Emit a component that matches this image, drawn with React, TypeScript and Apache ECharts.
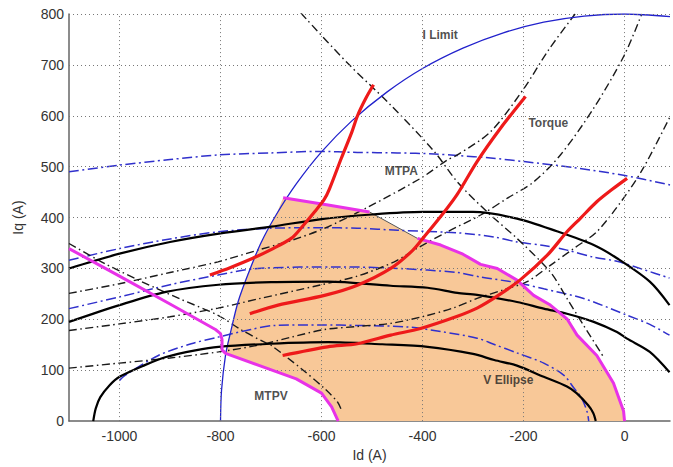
import { useEffect, useRef } from 'react';
import * as echarts from 'echarts';

// axis ticks
const xTickLabels = [-1000, -800, -600, -400, -200, 0];
const yGridValues = [100, 200, 300, 400, 500, 600, 700, 800];

// current limit circle (blue solid)
const iLimit = [
  [-800, 0], [-798, 60], [-790, 130], [-780, 175], [-765, 235], [-745, 290], [-720, 350],
  [-690, 405], [-650, 466], [-600, 529], [-540, 590], [-470, 647], [-400, 693], [-320, 733],
  [-240, 763], [-160, 784], [-80, 796], [0, 800], [90, 795],
];

// voltage ellipses (black solid)
const vEllipse1 = [
  [-1100, 300], [-1000, 329], [-900, 352], [-800, 369], [-700, 382], [-600, 397], [-500, 406],
  [-400, 411], [-300, 411], [-213, 398], [-134, 373], [-61, 346], [-15, 320], [50, 274], [89, 228],
];
const vEllipse2 = [
  [-1100, 195], [-1000, 228], [-908, 254], [-804, 268], [-700, 273], [-587, 274], [-463, 266],
  [-390, 262], [-331, 252], [-292, 248], [-213, 234], [-160, 221], [-114, 211], [-61, 195],
  [-15, 175], [5, 162], [50, 136], [89, 96],
];
const vEllipse3 = [
  [-1052, 0], [-1047, 25], [-1038, 47], [-1020, 70], [-1000, 87], [-950, 110], [-908, 126],
  [-850, 139], [-804, 146], [-700, 152], [-587, 155], [-480, 151], [-390, 146], [-300, 132],
  [-258, 120], [-213, 109], [-160, 87], [-114, 68], [-95, 55], [-72, 31], [-62, 16], [-57, 0],
];

// blue dash-dot curves
const blueDash1 = [
  [-1100, 490], [-1000, 503], [-900, 514], [-805, 523], [-700, 527], [-607, 530], [-529, 528],
  [-450, 527], [-377, 525], [-331, 522], [-265, 517], [-199, 510], [-100, 498], [-2, 483], [90, 464],
];
const blueDash2 = [
  [-1100, 316], [-1000, 339], [-900, 358], [-805, 372], [-700, 379], [-600, 380], [-529, 379],
  [-449, 375], [-331, 370], [-259, 362], [-213, 352], [-160, 345], [-114, 336], [-61, 322],
  [-15, 314], [37, 298], [89, 281],
];
const blueDash3 = [
  [-1100, 221], [-1000, 244], [-900, 268], [-805, 287], [-726, 300], [-561, 303], [-449, 300],
  [-331, 292], [-285, 283], [-213, 272], [-160, 260], [-81, 241], [5, 208], [50, 190], [89, 169],
];
const blueDash4 = [
  [-1000, 80], [-989, 90], [-923, 129], [-858, 152], [-805, 165], [-740, 180], [-693, 188],
  [-600, 189], [-529, 188], [-430, 185], [-364, 176], [-292, 163], [-259, 151], [-213, 134],
  [-160, 114], [-120, 90], [-101, 66], [-85, 45], [-74, 18], [-71, 0],
];

// black dash-dot curves (torque curves and theoretical MTPA / MTPV)
const torqueA = [
  [-1100, 251], [-1000, 270], [-900, 292], [-805, 313], [-726, 336], [-660, 355], [-594, 379],
  [-509, 420], [-404, 477], [-351, 513], [-331, 523], [-265, 569], [-199, 654], [-150, 730], [-98, 800],
];
const torqueB = [
  [-1100, 178], [-1000, 191], [-900, 205], [-805, 222], [-726, 240], [-600, 268], [-529, 285],
  [-456, 313], [-410, 340], [-351, 372], [-285, 405], [-232, 438], [-180, 470], [-127, 523],
  [-61, 615], [0, 720], [34, 800],
];
const torqueC = [
  [-1100, 104], [-1000, 114], [-900, 124], [-804, 136], [-726, 149], [-660, 165], [-594, 180],
  [-529, 186], [-463, 192], [-397, 206], [-340, 222], [-292, 241], [-240, 258], [-193, 274],
  [-147, 306], [-101, 339], [-55, 372], [-2, 438], [37, 497], [90, 598],
];
const descendingA = [
  [-641, 802], [-548, 703], [-463, 621], [-377, 530], [-331, 470], [-272, 411], [-213, 359],
  [-147, 293], [-114, 241], [-81, 188], [-41, 125],
];
const descendingB = [
  [-1100, 349], [-1030, 310], [-956, 274], [-880, 240], [-805, 208], [-760, 180], [-713, 155],
  [-700, 149], [-640, 103], [-594, 64], [-568, 37], [-560, 20],
];

// red operating trajectories
const red1 = [
  [-821, 287], [-780, 302], [-736, 320], [-700, 337], [-660, 359], [-640, 380], [-614, 411],
  [-595, 435], [-584, 457], [-561, 516], [-540, 568], [-528, 602], [-512, 635], [-497, 661],
];
const red2 = [
  [-742, 211], [-686, 228], [-594, 247], [-529, 267], [-463, 300], [-420, 335], [-397, 362],
  [-357, 411], [-331, 446], [-292, 510], [-246, 575], [-196, 638],
];
const red3 = [
  [-677, 129], [-588, 146], [-529, 152], [-463, 169], [-404, 182], [-331, 206], [-292, 222],
  [-250, 247], [-206, 278], [-153, 326], [-114, 372], [-88, 398], [-55, 431], [-25, 455], [5, 477],
];

// magenta boundaries
const mtpvBoundary = [
  [-1100, 339], [-1000, 285], [-900, 230], [-810, 180], [-800, 172], [-797, 160], [-797, 140],
  [-790, 133], [-720, 108], [-650, 83], [-600, 55], [-580, 28], [-567, 0],
];
const topBoundary = [[-676, 439], [-590, 425], [-505, 411]];
const thinBoundary = [[-505, 411], [-410, 359]];
const rightBoundary = [
  [-410, 359], [-364, 346], [-320, 328], [-285, 308], [-252, 300], [-213, 277], [-180, 247],
  [-147, 228], [-114, 201], [-94, 169], [-55, 129], [-22, 75], [-2, 20], [0, 0],
];

// shaded operating region
const fillRegion = [
  [-567, 0], [-580, 28], [-600, 55], [-650, 83], [-720, 108], [-790, 133], [-787, 150],
  [-780, 175], [-765, 235], [-745, 290], [-720, 350], [-690, 405], [-676, 439], [-590, 425],
  [-505, 411], [-410, 359], [-364, 346], [-320, 328], [-285, 308], [-252, 300], [-213, 277],
  [-180, 247], [-147, 228], [-114, 201], [-94, 169], [-55, 129], [-22, 75], [-2, 20], [0, 0],
];

// annotations
const annotationNames = ['I Limit', 'Torque', 'MTPA', 'MTPV', 'V Ellipse'];
const annotationPos = [[-365, 758], [-151, 586], [-442, 491], [-700, 50], [-230, 81]];

const FONT = "'Liberation Sans', Arial, Helvetica, sans-serif";

export default function App() {
  const ref = useRef<HTMLDivElement>(null);

  useEffect(() => {
    if (!ref.current) return;
    const chart = echarts.init(ref.current, undefined, { renderer: 'svg' });

    const line = (
      data: number[][],
      color: string,
      width: number,
      type: any,
      z: number,
      smooth: number | boolean = 0.3,
    ) => ({
      type: 'line',
      data,
      showSymbol: false,
      symbol: 'none',
      smooth,
      silent: true,
      z,
      lineStyle: { color, width, type },
    });

    const blackDash = [8, 3.5, 1.5, 3.5];
    const blueDash = [10, 3.5, 2, 3.5];

    chart.setOption({
      animation: false,
      textStyle: { fontFamily: FONT },
      grid: { left: 69, right: 0, top: 14, bottom: 45, containLabel: false },
      xAxis: {
        type: 'value',
        min: -1100,
        max: 90,
        interval: 100,
        name: 'Id (A)',
        nameLocation: 'middle',
        nameGap: 24,
        nameTextStyle: { fontSize: 14, color: '#333', fontFamily: FONT },
        axisLine: { show: true, onZero: false, lineStyle: { color: '#666', width: 1.5 } },
        axisTick: { show: false },
        splitLine: { show: false },
        axisLabel: {
          fontSize: 14,
          color: '#333',
          margin: 8,
          fontFamily: FONT,
          formatter: (v: number) => (xTickLabels.includes(v) ? String(v) : ''),
        },
      },
      yAxis: {
        type: 'value',
        min: 0,
        max: 800,
        interval: 100,
        name: 'Iq (A)',
        nameLocation: 'middle',
        nameGap: 44,
        nameTextStyle: { fontSize: 14, color: '#333', fontFamily: FONT },
        axisLine: { show: true, onZero: false, lineStyle: { color: '#666', width: 1.5 } },
        axisTick: { show: false },
        splitLine: { show: false },
        axisLabel: { fontSize: 14, color: '#333', margin: 5, fontFamily: FONT },
      },
      series: [
        {
          type: 'custom',
          data: fillRegion,
          silent: true,
          z: 1,
          clip: true,
          renderItem: (params: any, api: any) => {
            if (params.dataIndex !== 0) return null;
            const pts = fillRegion.map((p) => api.coord(p));
            return {
              type: 'polygon',
              shape: { points: pts },
              style: { fill: '#F8C898', stroke: 'none' },
            };
          },
        },
        {
          type: 'line',
          data: [[-1100, 0]],
          showSymbol: false,
          symbol: 'none',
          silent: true,
          z: 2,
          lineStyle: { opacity: 0 },
          markLine: {
            silent: true,
            symbol: ['none', 'none'],
            label: { show: false },
            lineStyle: { color: '#777', width: 1, type: [1, 3] },
            data: [
              ...xTickLabels.map((v) => ({ xAxis: v })),
              ...yGridValues.map((v) => ({ yAxis: v })),
            ],
          },
        },
        line(thinBoundary, '#555', 1, 'solid', 3, false),
        line(blueDash1, '#3030CC', 1.5, blueDash, 3),
        line(blueDash2, '#3030CC', 1.5, blueDash, 3),
        line(blueDash3, '#3030CC', 1.5, blueDash, 3),
        line(blueDash4, '#3030CC', 1.5, blueDash, 3),
        line(torqueA, '#1a1a1a', 1.4, blackDash, 3),
        line(torqueB, '#1a1a1a', 1.4, blackDash, 3),
        line(torqueC, '#1a1a1a', 1.4, blackDash, 3),
        line(descendingA, '#1a1a1a', 1.4, blackDash, 3),
        line(descendingB, '#1a1a1a', 1.4, blackDash, 3),
        line(iLimit, '#2222CC', 1.3, 'solid', 4),
        line(vEllipse1, '#000', 2.2, 'solid', 4),
        line(vEllipse2, '#000', 2.2, 'solid', 4),
        line(vEllipse3, '#000', 2.2, 'solid', 4),
        line(mtpvBoundary, '#E832E8', 3, 'solid', 5, false),
        line(topBoundary, '#E832E8', 3, 'solid', 5, false),
        line(rightBoundary, '#E832E8', 3, 'solid', 5, false),
        line(red1, '#EE1A1A', 3.2, 'solid', 6),
        line(red2, '#EE1A1A', 3.2, 'solid', 6),
        line(red3, '#EE1A1A', 3.2, 'solid', 6),
        {
          type: 'scatter',
          silent: true,
          z: 7,
          symbolSize: 1,
          itemStyle: { color: 'rgba(0,0,0,0)' },
          data: annotationNames.map((n, i) => ({ name: n, value: annotationPos[i] })),
          label: {
            show: true,
            position: 'inside',
            formatter: (p: any) => p.name,
            fontSize: 12,
            fontWeight: 'bold',
            color: '#222',
            fontFamily: FONT,
          },
        },
      ],
    });

    return () => chart.dispose();
  }, []);

  return (
    <div
      ref={ref}
      style={{ position: 'fixed', left: 0, top: 0, width: 673, height: 467, background: '#fff' }}
    />
  );
}
